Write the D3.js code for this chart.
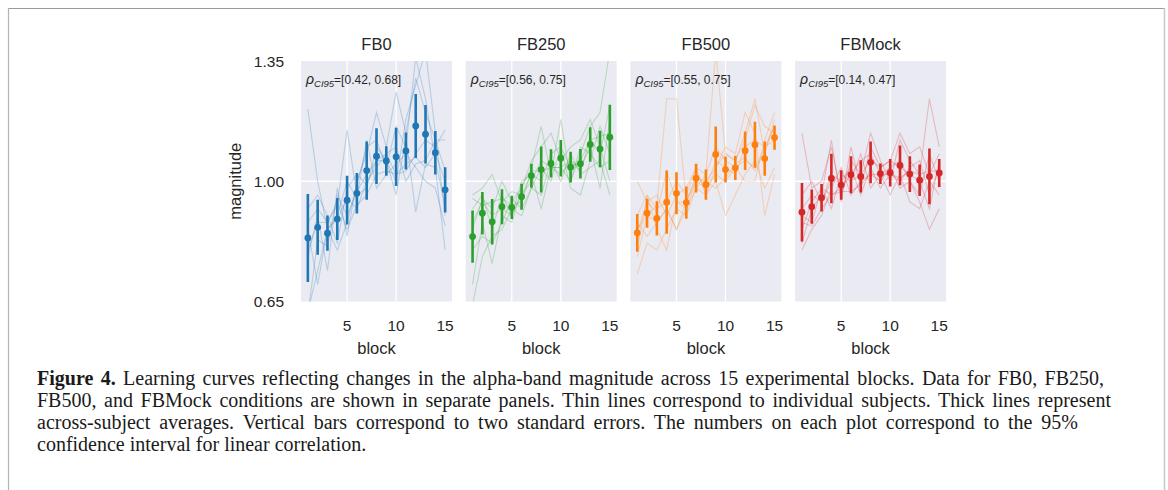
<!DOCTYPE html>
<html>
<head>
<meta charset="utf-8">
<script src="https://cdn.jsdelivr.net/npm/d3@7"></script>
<style>
  html, body { margin: 0; padding: 0; background: #fff; }
  svg { display: block; }
</style>
</head>
<body>
<div id="chart"></div>
<script>
const conditions = ['FB0', 'FB250', 'FB500', 'FBMock'];
const colors = ['#1f77b4', '#2ca02c', '#ff7f0e', '#d62728'];
const ciLabels = ['[0.42, 0.68]', '[0.56, 0.75]', '[0.55, 0.75]', '[0.14, 0.47]'];
const blocks = d3.range(1, 16);
const yTicks = [0.65, 1.0, 1.35];
const xTicks = [5, 10, 15];

// across-subject means and half-length of the 2*SE bars
const means = [
  [0.835, 0.866, 0.849, 0.890, 0.945, 0.965, 1.031, 1.073, 1.059, 1.071, 1.088, 1.161, 1.137, 1.083, 0.975],
  [0.839, 0.907, 0.882, 0.926, 0.924, 0.955, 1.016, 1.034, 1.052, 1.067, 1.041, 1.051, 1.107, 1.094, 1.128],
  [0.850, 0.907, 0.892, 0.939, 0.965, 0.938, 1.009, 0.990, 1.078, 1.034, 1.039, 1.089, 1.106, 1.066, 1.127],
  [0.910, 0.926, 0.952, 1.008, 0.989, 1.019, 1.014, 1.055, 1.022, 1.025, 1.046, 1.021, 1.003, 1.014, 1.024],
];
const errors = [
  [0.128, 0.080, 0.051, 0.061, 0.071, 0.059, 0.085, 0.081, 0.043, 0.085, 0.054, 0.093, 0.085, 0.063, 0.066],
  [0.076, 0.062, 0.066, 0.051, 0.034, 0.038, 0.035, 0.067, 0.041, 0.053, 0.045, 0.043, 0.050, 0.053, 0.095],
  [0.055, 0.042, 0.050, 0.092, 0.061, 0.047, 0.042, 0.044, 0.081, 0.038, 0.035, 0.056, 0.067, 0.050, 0.035],
  [0.085, 0.050, 0.040, 0.072, 0.043, 0.054, 0.047, 0.061, 0.030, 0.040, 0.058, 0.052, 0.046, 0.081, 0.041],
];

// individual subjects (thin lines)
const subjectsFB0 = [
  [1.21, 1.00, 0.86, 0.89, 0.95, 0.92, 1.00, 1.04, 1.08, 1.02, 1.03, 1.08, 1.12, 1.10, 1.15],
  [0.62, 0.74, 0.86, 0.80, 0.88, 0.99, 1.10, 1.12, 1.04, 1.16, 1.10, 1.36, 1.24, 1.06, 0.93],
  [0.80, 0.88, 0.88, 0.93, 1.15, 0.96, 0.98, 1.10, 1.06, 1.00, 1.18, 1.28, 1.38, 1.14, 0.90],
  [0.78, 0.90, 0.74, 0.98, 0.84, 1.00, 1.08, 1.20, 1.10, 1.26, 1.14, 1.30, 1.20, 1.12, 1.03],
  [0.86, 0.70, 0.86, 0.90, 1.00, 0.95, 1.12, 0.98, 1.02, 1.05, 1.08, 1.04, 1.00, 0.98, 0.87],
  [0.92, 0.96, 0.90, 0.82, 0.98, 1.02, 0.99, 1.06, 1.08, 1.10, 1.00, 1.05, 1.06, 1.12, 1.12],
  [0.88, 0.92, 0.88, 0.94, 0.86, 0.93, 0.96, 1.02, 1.03, 1.02, 1.05, 1.07, 1.04, 1.08, 1.00],
  [0.61, 0.83, 0.81, 0.96, 0.90, 0.97, 1.02, 1.06, 1.06, 0.96, 1.13, 0.91, 1.05, 1.04, 0.80],
];
const subjectsFB250 = [
  [0.96, 0.98, 1.02, 0.94, 0.97, 0.96, 1.02, 1.00, 1.08, 1.10, 1.04, 1.06, 1.12, 1.08, 1.22],
  [0.70, 0.88, 0.76, 0.90, 0.88, 0.98, 1.04, 1.16, 1.02, 1.18, 1.00, 1.08, 1.16, 1.20, 1.38],
  [0.64, 0.78, 0.84, 0.86, 0.92, 0.90, 0.98, 0.96, 1.06, 1.00, 1.08, 1.02, 1.04, 1.06, 0.96],
  [0.86, 0.95, 0.92, 1.00, 0.94, 0.98, 1.06, 1.10, 1.14, 1.06, 1.10, 1.12, 1.18, 1.10, 1.00],
  [0.80, 0.84, 0.82, 0.88, 0.95, 0.92, 0.98, 1.04, 1.00, 1.10, 0.98, 0.96, 1.06, 1.16, 1.08],
  [0.92, 0.96, 0.86, 0.96, 0.90, 1.00, 1.02, 0.92, 1.04, 1.02, 1.06, 1.04, 1.10, 0.98, 1.18],
  [0.88, 0.94, 0.90, 0.92, 0.90, 0.96, 1.00, 1.06, 1.04, 1.04, 1.00, 1.10, 1.08, 1.04, 1.06],
  [0.95, 0.93, 0.94, 0.95, 0.93, 0.94, 1.03, 1.03, 1.04, 1.04, 1.06, 1.03, 1.12, 1.13, 1.14],
];
const subjectsFB500 = [
  [0.73, 0.82, 0.80, 0.86, 0.92, 0.90, 0.98, 0.96, 1.00, 0.90, 0.96, 1.02, 1.06, 0.98, 1.04],
  [0.86, 0.90, 0.93, 1.24, 1.24, 0.94, 1.02, 0.98, 1.06, 1.04, 1.02, 1.10, 1.12, 1.10, 1.16],
  [0.80, 0.96, 0.86, 0.80, 0.94, 0.92, 0.98, 1.02, 1.38, 1.08, 1.06, 1.14, 1.24, 1.08, 1.18],
  [1.00, 0.94, 0.96, 0.90, 0.96, 0.98, 1.04, 0.96, 1.04, 1.10, 1.08, 1.20, 1.14, 0.90, 1.02],
  [0.88, 0.84, 0.88, 0.92, 0.86, 0.92, 1.00, 0.98, 1.02, 1.00, 1.04, 1.00, 1.00, 1.12, 1.20],
  [0.90, 0.96, 0.92, 0.94, 1.00, 0.96, 1.04, 1.02, 1.10, 1.06, 1.04, 1.06, 1.04, 1.10, 1.12],
  [0.78, 0.90, 0.88, 0.92, 0.86, 0.94, 1.00, 1.00, 1.04, 1.08, 1.06, 1.12, 1.22, 1.16, 1.14],
  [0.85, 0.94, 0.91, 1.03, 0.94, 0.94, 1.01, 1.00, 0.98, 1.01, 1.05, 1.07, 1.03, 1.09, 1.16],
];
const subjectsFBMock = [
  [1.14, 0.98, 1.00, 1.10, 0.96, 1.06, 1.02, 1.14, 1.06, 1.00, 1.12, 1.06, 1.02, 1.24, 1.10],
  [0.80, 0.86, 0.90, 0.98, 1.04, 0.96, 1.00, 1.02, 1.00, 1.04, 0.98, 1.00, 0.94, 0.86, 0.92],
  [0.82, 0.92, 0.96, 1.12, 0.94, 1.10, 0.98, 1.10, 1.04, 1.06, 1.14, 1.08, 1.10, 1.02, 1.08],
  [0.86, 0.94, 0.98, 0.92, 1.02, 1.00, 1.08, 0.98, 1.02, 0.96, 1.02, 0.94, 0.92, 1.00, 0.96],
  [0.96, 1.00, 0.94, 1.00, 1.00, 1.04, 0.96, 1.04, 0.98, 1.02, 1.00, 1.04, 1.06, 0.96, 1.04],
  [0.90, 0.88, 0.98, 0.96, 0.98, 1.02, 1.06, 1.08, 1.02, 1.04, 1.06, 1.00, 0.96, 1.08, 1.00],
  [0.92, 0.96, 0.94, 1.02, 1.00, 1.00, 1.02, 1.06, 1.04, 1.06, 1.04, 1.02, 1.00, 0.92, 1.06],
  [0.88, 0.87, 0.92, 0.96, 0.97, 0.97, 0.99, 1.02, 1.02, 1.02, 1.01, 1.03, 1.02, 1.03, 1.03],
];
const subjects = [subjectsFB0, subjectsFB250, subjectsFB500, subjectsFBMock];

const captionLines = [
  [{ text: 'Figure 4.', bold: true }, { text: ' Learning curves reflecting changes in the alpha-band magnitude across 15 experimental blocks. Data for FB0, FB250,' }],
  [{ text: 'FB500, and FBMock conditions are shown in separate panels. Thin lines correspond to individual subjects. Thick lines represent' }],
  [{ text: 'across-subject averages. Vertical bars correspond to two standard errors. The numbers on each plot correspond to the 95%' }],
  [{ text: 'confidence interval for linear correlation.' }],
];
// right end of each printed caption line (null = natural width)
const captionEnds = [1104, 1111, 1078, null];

const width = 1168;
const height = 490;
const panelW = 151;
const panelStep = 164.7;
const firstLeft = 301;
const plotTop = 61;
const plotBottom = 301.5;
const sans = '"Liberation Sans", Arial, sans-serif';
const textColor = '#262626';

const svg = d3.select('#chart')
  .append('svg')
  .attr('width', width)
  .attr('height', height);

// page frame
svg.append('rect').attr('width', width).attr('height', height).attr('fill', '#fff');
svg.append('line').attr('x1', 8).attr('x2', 1164.5).attr('y1', 8.5).attr('y2', 8.5)
  .attr('stroke', '#9a9a9a').attr('stroke-width', 1.2);
svg.append('line').attr('x1', 8.5).attr('x2', 8.5).attr('y1', 8).attr('y2', height)
  .attr('stroke', '#b4b4b4').attr('stroke-width', 1.2);
svg.append('line').attr('x1', 1164.5).attr('x2', 1164.5).attr('y1', 8).attr('y2', height)
  .attr('stroke', '#c8c8c8').attr('stroke-width', 1.5);

const y = d3.scaleLinear().domain([0.65, 1.35]).range([plotBottom, plotTop]);

conditions.forEach((name, i) => {
  const left = firstLeft + i * panelStep;
  const x = d3.scaleLinear().domain([0.3, 15.7]).range([left, left + panelW]);
  const g = svg.append('g');
  const clipId = `clip-${i}`;

  svg.append('clipPath').attr('id', clipId)
    .append('rect')
    .attr('x', left).attr('y', plotTop)
    .attr('width', panelW).attr('height', plotBottom - plotTop);

  g.append('rect')
    .attr('x', left).attr('y', plotTop)
    .attr('width', panelW).attr('height', plotBottom - plotTop)
    .attr('fill', '#eaeaf2');

  // grid
  g.append('g')
    .selectAll('line')
    .data(xTicks.filter((t) => t < 15))
    .join('line')
    .attr('x1', (d) => x(d)).attr('x2', (d) => x(d))
    .attr('y1', plotTop).attr('y2', plotBottom)
    .attr('stroke', '#fff').attr('stroke-width', 1.3);
  g.append('g')
    .selectAll('line')
    .data(yTicks.filter((t) => t > 0.65 && t < 1.35))
    .join('line')
    .attr('x1', left).attr('x2', left + panelW)
    .attr('y1', (d) => y(d)).attr('y2', (d) => y(d))
    .attr('stroke', '#fff').attr('stroke-width', 1.3);

  const plot = g.append('g').attr('clip-path', `url(#${clipId})`);
  const line = d3.line().x((d, k) => x(blocks[k])).y((d) => y(d));

  plot.append('g')
    .selectAll('path')
    .data(subjects[i])
    .join('path')
    .attr('d', line)
    .attr('fill', 'none')
    .attr('stroke', colors[i])
    .attr('stroke-opacity', 0.25)
    .attr('stroke-width', 1.1);

  const pts = blocks.map((b, k) => ({ b, m: means[i][k], e: errors[i][k] }));
  plot.append('g')
    .selectAll('line')
    .data(pts)
    .join('line')
    .attr('x1', (d) => x(d.b)).attr('x2', (d) => x(d.b))
    .attr('y1', (d) => y(d.m - d.e)).attr('y2', (d) => y(d.m + d.e))
    .attr('stroke', colors[i])
    .attr('stroke-width', 2.6);
  plot.append('g')
    .selectAll('circle')
    .data(pts)
    .join('circle')
    .attr('cx', (d) => x(d.b)).attr('cy', (d) => y(d.m))
    .attr('r', 3.4)
    .attr('fill', colors[i]);

  // title
  g.append('text')
    .attr('x', left + panelW / 2).attr('y', 49.5)
    .attr('text-anchor', 'middle')
    .attr('font-family', sans).attr('font-size', 16.5)
    .attr('fill', textColor)
    .text(name);

  // correlation note
  const note = g.append('text')
    .attr('x', left + 5).attr('y', 84)
    .attr('font-family', sans).attr('font-size', 12)
    .attr('fill', textColor);
  note.append('tspan').attr('font-style', 'italic').attr('font-size', 14).text('ρ');
  note.append('tspan').attr('font-style', 'italic').attr('font-size', 9.5).attr('dy', 2.5).text('CI95');
  note.append('tspan').attr('dy', -2.5).text('=' + ciLabels[i]);

  // x ticks
  g.append('g')
    .selectAll('text')
    .data(xTicks)
    .join('text')
    .attr('x', (d) => x(d)).attr('y', 331)
    .attr('text-anchor', 'middle')
    .attr('font-family', sans).attr('font-size', 15.5)
    .attr('fill', textColor)
    .text((d) => d);

  g.append('text')
    .attr('x', left + panelW / 2).attr('y', 354)
    .attr('text-anchor', 'middle')
    .attr('font-family', sans).attr('font-size', 16.5)
    .attr('fill', textColor)
    .text('block');

  if (i === 0) {
    g.append('g')
      .selectAll('text')
      .data(yTicks)
      .join('text')
      .attr('x', left - 17).attr('y', (d) => y(d) + 5.5)
      .attr('text-anchor', 'end')
      .attr('font-family', sans).attr('font-size', 15.5)
      .attr('fill', textColor)
      .text((d) => d3.format('.2f')(d));

    g.append('text')
      .attr('transform', `translate(241,${y(1.0)}) rotate(-90)`)
      .attr('text-anchor', 'middle')
      .attr('font-family', sans).attr('font-size', 16.5)
      .attr('fill', textColor)
      .text('magnitude');
  }
});

// caption, with word spacing stretched so each line ends where the printed one does
const captionX = 37;
const caption = svg.append('g')
  .attr('font-family', '"Liberation Serif", "Times New Roman", serif')
  .attr('font-size', 20)
  .attr('fill', '#1a1a1a');
captionLines.forEach((parts, k) => {
  const t = caption.append('text').attr('x', captionX).attr('y', 384.5 + k * 22.2);
  parts.forEach((p) => {
    t.append('tspan').attr('font-weight', p.bold ? 'bold' : null).text(p.text);
  });
  if (captionEnds[k]) {
    const natural = t.node().getComputedTextLength();
    const spaces = parts.map((p) => p.text).join('').split(' ').length - 1;
    t.attr('word-spacing', ((captionEnds[k] - captionX - natural) / spaces).toFixed(2));
  }
});
</script>
</body>
</html>
